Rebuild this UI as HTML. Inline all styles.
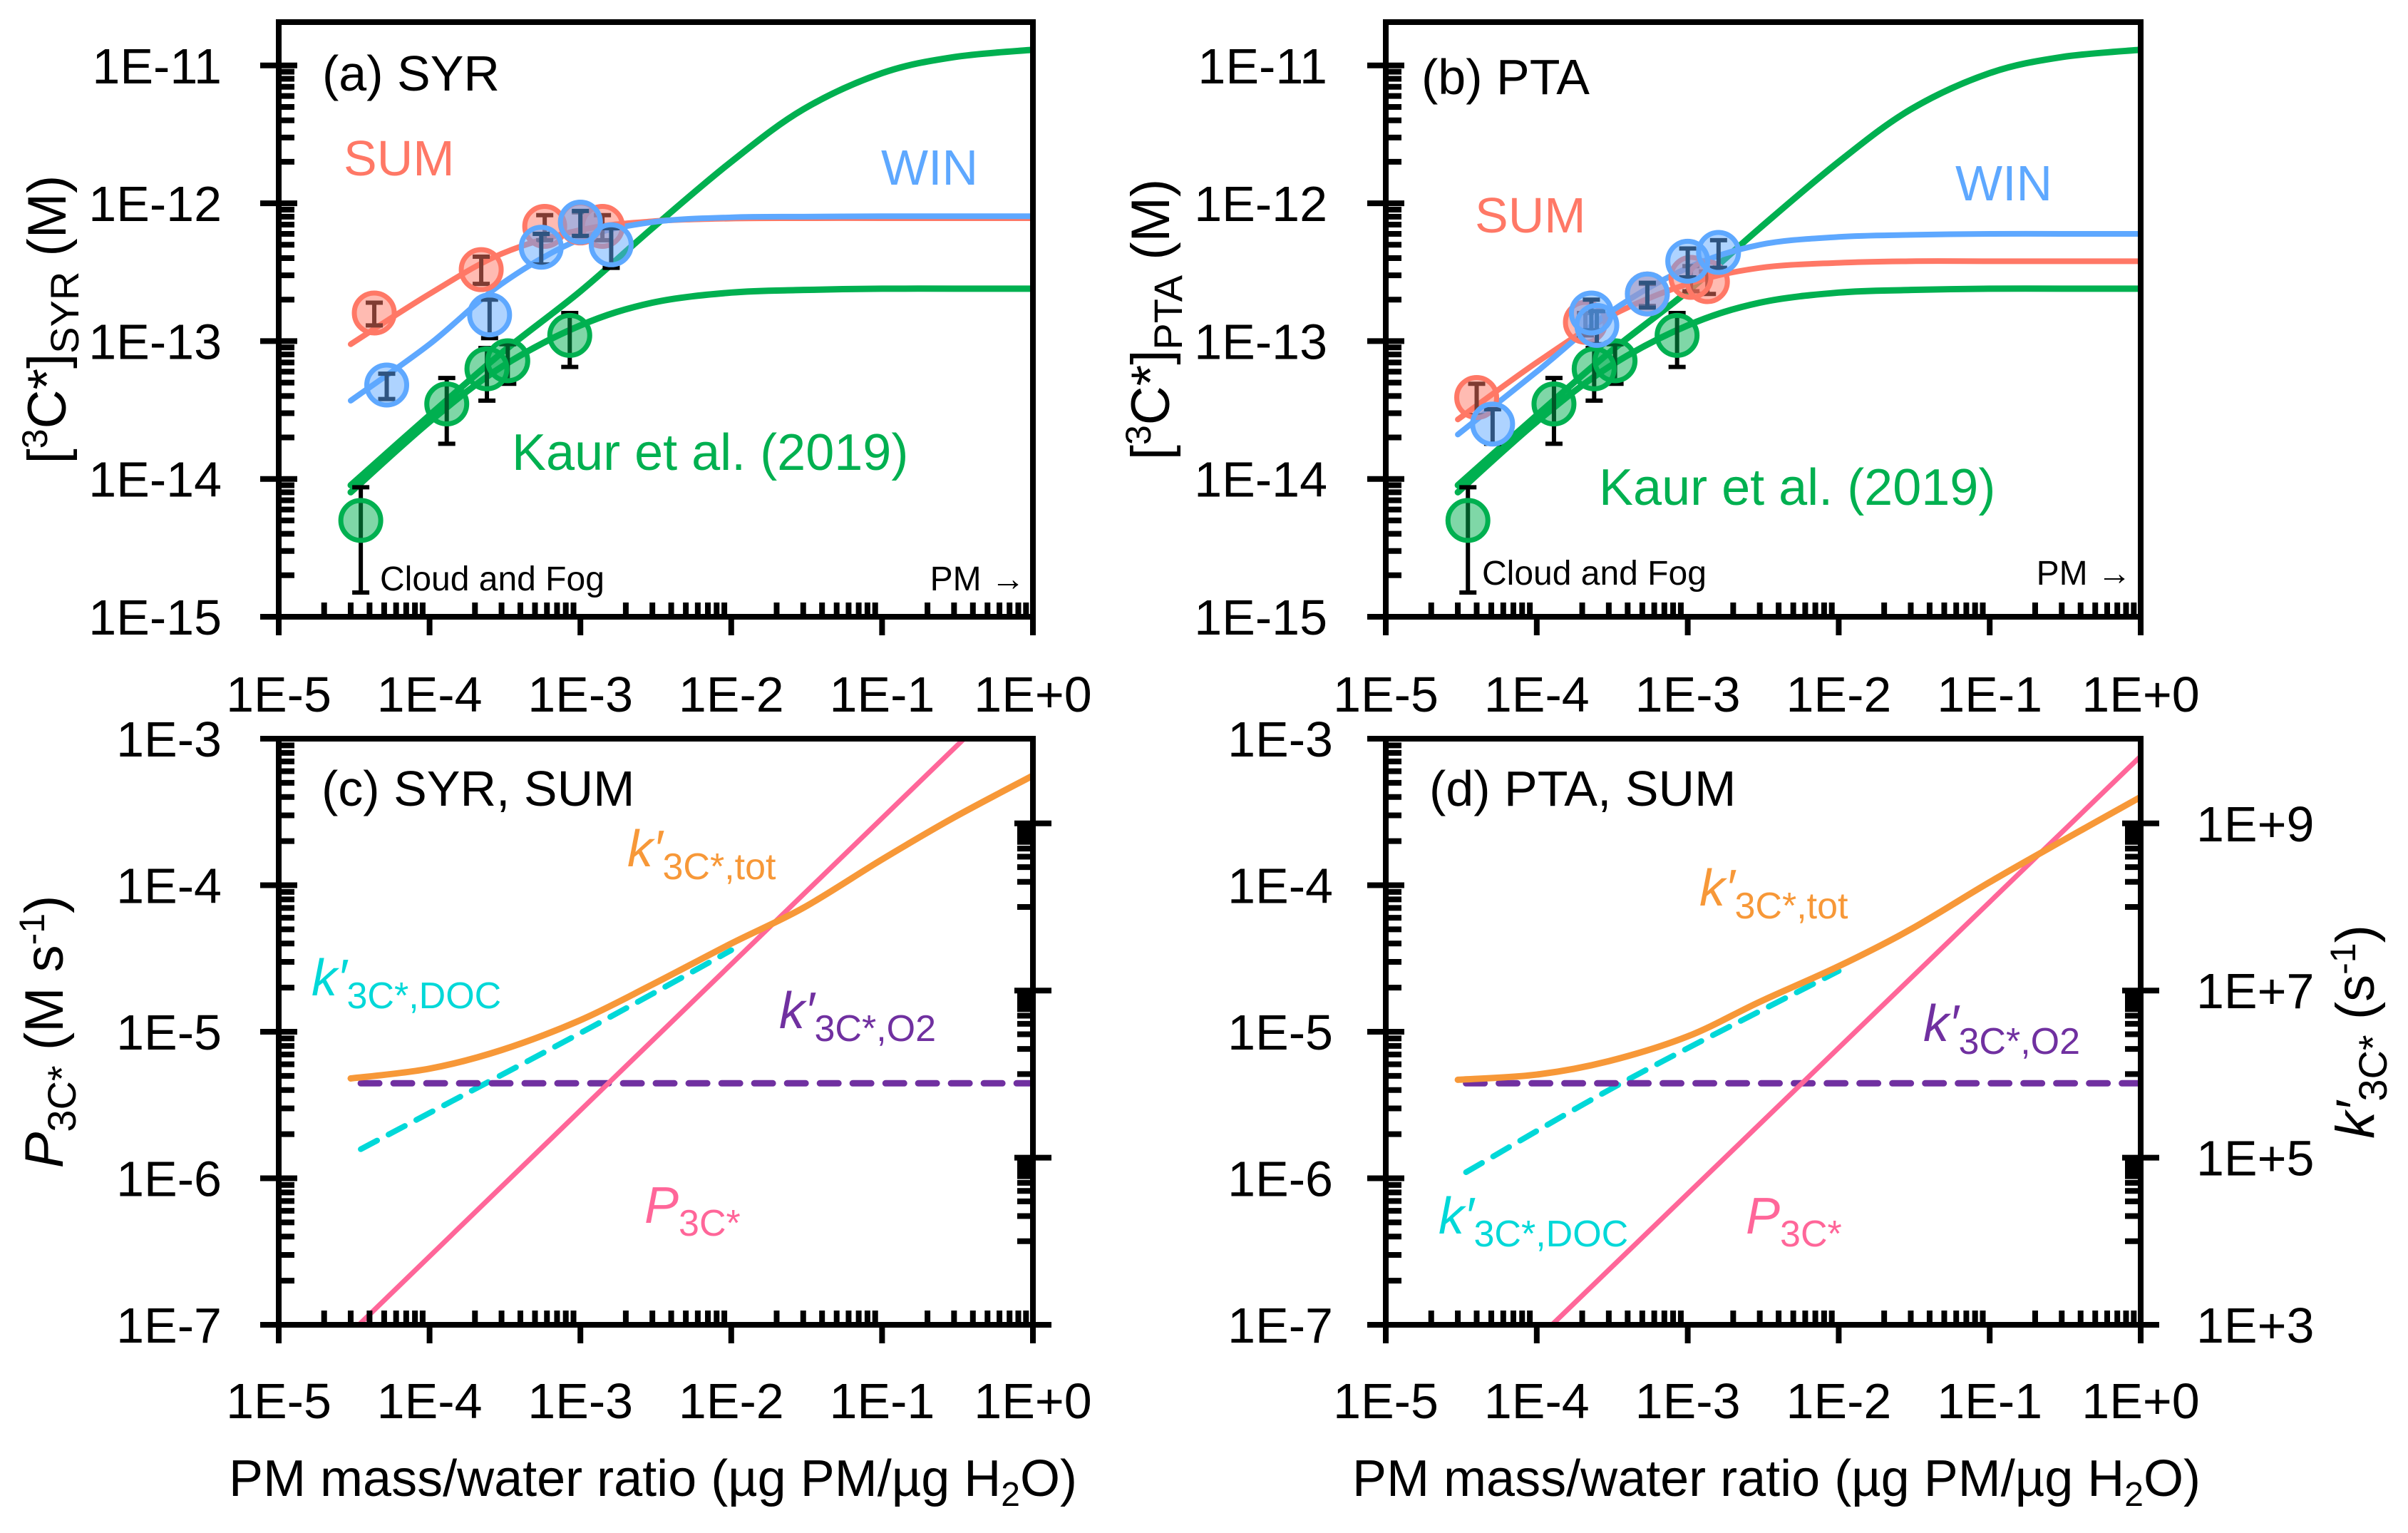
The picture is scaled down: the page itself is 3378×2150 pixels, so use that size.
<!DOCTYPE html>
<html><head><meta charset="utf-8"><style>
html,body{margin:0;padding:0;background:#fff;}
svg{display:block;font-family:"Liberation Sans",sans-serif;}
</style></head><body>
<svg id="chart" xmlns="http://www.w3.org/2000/svg" width="3378" height="2150" viewBox="0 0 3378 2150">
<defs>
<clipPath id="clipA"><rect x="391" y="31" width="1058" height="834"/></clipPath>
<clipPath id="clipB"><rect x="1944" y="31" width="1059" height="834"/></clipPath>
<clipPath id="clipC"><rect x="391" y="1036" width="1058" height="822"/></clipPath>
<clipPath id="clipD"><rect x="1944" y="1036" width="1059" height="822"/></clipPath>
</defs>
<g id="layer-marks"></g>
<g id="layer-axes"></g>
<text x="452" y="127" font-size="70">(a) SYR</text>
<text x="482" y="246" font-size="70" fill="#FF7866">SUM</text>
<text x="1236" y="259" font-size="70" fill="#5EA8FF">WIN</text>
<text x="718" y="659" font-size="72" fill="#00B050">Kaur et al. (2019)</text>
<text x="533" y="828" font-size="48">Cloud and Fog</text>
<text x="1438" y="828" font-size="48" text-anchor="end">PM →</text>

<text x="1994" y="132" font-size="70">(b) PTA</text>
<text x="2069" y="326" font-size="70" fill="#FF7866">SUM</text>
<text x="2743" y="281" font-size="70" fill="#5EA8FF">WIN</text>
<text x="2243" y="708" font-size="72" fill="#00B050">Kaur et al. (2019)</text>
<text x="2079" y="820" font-size="48">Cloud and Fog</text>
<text x="2990" y="820" font-size="48" text-anchor="end">PM →</text>

<text x="451" y="1130" font-size="70">(c) SYR, SUM</text>
<text x="880" y="1215" font-size="72" fill="#F79838"><tspan font-style="italic">k′</tspan><tspan font-size="52" dy="18">3C*,tot</tspan></text>
<text x="437" y="1396" font-size="72" fill="#00D8D8"><tspan font-style="italic">k′</tspan><tspan font-size="52" dy="18">3C*,DOC</tspan></text>
<text x="1093" y="1442" font-size="72" fill="#7030A0"><tspan font-style="italic">k′</tspan><tspan font-size="52" dy="18">3C*,O2</tspan></text>
<text x="904" y="1715" font-size="72" fill="#FF6699"><tspan font-style="italic">P</tspan><tspan font-size="52" dy="18">3C*</tspan></text>

<text x="2005" y="1130" font-size="70">(d) PTA, SUM</text>
<text x="2384" y="1270" font-size="72" fill="#F79838"><tspan font-style="italic">k′</tspan><tspan font-size="52" dy="18">3C*,tot</tspan></text>
<text x="2698" y="1460" font-size="72" fill="#7030A0"><tspan font-style="italic">k′</tspan><tspan font-size="52" dy="18">3C*,O2</tspan></text>
<text x="2018" y="1730" font-size="72" fill="#00D8D8"><tspan font-style="italic">k′</tspan><tspan font-size="52" dy="18">3C*,DOC</tspan></text>
<text x="2449" y="1730" font-size="72" fill="#FF6699"><tspan font-style="italic">P</tspan><tspan font-size="52" dy="18">3C*</tspan></text>

<text transform="translate(92,448) rotate(-90)" font-size="76" text-anchor="middle">[<tspan font-size="50" dy="-26">3</tspan><tspan dy="26">C*]</tspan><tspan font-size="56" dy="18">SYR</tspan><tspan dy="-18"> (M)</tspan></text>
<text transform="translate(1640,448) rotate(-90)" font-size="76" text-anchor="middle">[<tspan font-size="50" dy="-26">3</tspan><tspan dy="26">C*]</tspan><tspan font-size="56" dy="18">PTA</tspan><tspan dy="-18"> (M)</tspan></text>
<text transform="translate(88,1447) rotate(-90)" font-size="76" text-anchor="middle"><tspan font-style="italic">P</tspan><tspan font-size="56" dy="18">3C*</tspan><tspan dy="-18"> (M s</tspan><tspan font-size="50" dy="-26">-1</tspan><tspan dy="26">)</tspan></text>
<text transform="translate(3330,1447) rotate(-90)" font-size="76" text-anchor="middle"><tspan font-style="italic">k′</tspan><tspan font-size="56" dy="18">3C*</tspan><tspan dy="-18"> (s</tspan><tspan font-size="50" dy="-26">-1</tspan><tspan dy="26">)</tspan></text>
<text x="916" y="2098" font-size="72" text-anchor="middle">PM mass/water ratio (µg PM/µg H<tspan font-size="48" dy="14">2</tspan><tspan dy="-14">O)</tspan></text>
<text x="2492" y="2098" font-size="72" text-anchor="middle">PM mass/water ratio (µg PM/µg H<tspan font-size="48" dy="14">2</tspan><tspan dy="-14">O)</tspan></text>
</svg>
<script>
// ===== Data =====
const aSumX = [4.3e-5, 2.2e-4, 5.8e-4, 1.0e-3, 1.4e-3];
const aSumY = [1.6e-13, 3.3e-13, 6.8e-13, 7.2e-13, 6.8e-13];
const aSumLo = [1.3e-13, 2.6e-13, 5.4e-13, 5.8e-13, 5.4e-13];
const aSumHi = [1.9e-13, 4.1e-13, 8.2e-13, 8.6e-13, 8.2e-13];
const aWinX = [5.2e-5, 2.5e-4, 5.5e-4, 1.0e-3, 1.6e-3];
const aWinY = [4.8e-14, 1.55e-13, 4.8e-13, 7.3e-13, 5.0e-13];
const aWinLo = [3.8e-14, 1.05e-13, 3.6e-13, 5.8e-13, 3.4e-13];
const aWinHi = [5.8e-14, 2.0e-13, 6.0e-13, 8.8e-13, 6.6e-13];
const kaurX = [3.5e-5, 1.3e-4, 2.4e-4, 3.3e-4, 8.5e-4];
const kaurY = [5.0e-15, 3.5e-14, 6.3e-14, 7.2e-14, 1.1e-13];
const kaurLo = [1.5e-15, 1.8e-14, 3.7e-14, 4.9e-14, 6.5e-14];
const kaurHi = [8.7e-15, 5.4e-14, 8.9e-14, 9.5e-14, 1.6e-13];
const curveX = [3e-5, 1e-4, 3e-4, 1e-3, 3e-3, 1e-2, 3e-2, 1e-1, 3e-1, 1];
const aSumCurve = [9.5e-14, 2.2e-13, 4.3e-13, 6.4e-13, 7.4e-13, 7.75e-13, 7.8e-13, 7.8e-13, 7.8e-13, 7.8e-13];
const aWinCurve = [3.7e-14, 9.5e-14, 2.6e-13, 5.5e-13, 7.3e-13, 7.9e-13, 8.0e-13, 8.05e-13, 8.05e-13, 8.05e-13];
const kaurHighCurve = [9e-15, 2.9e-14, 8.2e-14, 2.3e-13, 6.6e-13, 2.0e-12, 4.8e-12, 8.8e-12, 1.15e-11, 1.3e-11];
const kaurLowCurve = [8e-15, 2.6e-14, 6.5e-14, 1.3e-13, 1.9e-13, 2.25e-13, 2.35e-13, 2.4e-13, 2.4e-13, 2.4e-13];
const bSumX = [4.0e-5, 2.1e-4, 5.4e-4, 1.05e-3, 1.35e-3];
const bSumY = [3.9e-14, 1.37e-13, 2.2e-13, 2.9e-13, 2.7e-13];
const bSumLo = [2.9e-14, 1.1e-13, 1.8e-13, 2.3e-13, 2.2e-13];
const bSumHi = [4.9e-14, 1.6e-13, 2.6e-13, 3.5e-13, 3.2e-13];
const bWinX = [5.1e-5, 2.3e-4, 2.5e-4, 5.4e-4, 1.0e-3, 1.6e-3];
const bWinY = [2.5e-14, 1.6e-13, 1.3e-13, 2.2e-13, 3.8e-13, 4.4e-13];
const bWinLo = [1.8e-14, 1.2e-13, 0.95e-13, 1.75e-13, 2.9e-13, 3.4e-13];
const bWinHi = [3.2e-14, 2.0e-13, 1.65e-13, 2.65e-13, 4.7e-13, 5.4e-13];
const bSumCurve = [2.7e-14, 7.0e-14, 1.5e-13, 2.6e-13, 3.4e-13, 3.7e-13, 3.8e-13, 3.8e-13, 3.8e-13, 3.8e-13];
const bWinCurve = [2.1e-14, 6.0e-14, 1.6e-13, 3.4e-13, 5.0e-13, 5.7e-13, 5.9e-13, 6.0e-13, 6.0e-13, 6.0e-13];
const cTot = [4.8e-6, 5.6e-6, 7.5e-6, 1.2e-5, 2.1e-5, 4.0e-5, 7.0e-5, 1.5e-4, 2.9e-4, 5.6e-4];
const cDocX = [3.5e-5, 1e-3, 1e-2];
const cDocY = [1.58e-6, 9.8e-6, 3.6e-5];
const cO2X = [3.5e-5, 1];
const cO2Y = [4.45e-6, 4.45e-6];
const cPX = [3.4e-5, 0.35];
const cPY = [1e-7, 1e-3];
const dTot = [4.7e-6, 5.1e-6, 6.3e-6, 9.3e-6, 1.6e-5, 2.8e-5, 5.0e-5, 1.05e-4, 2.0e-4, 4.0e-4];
const dDocX = [3.4e-5, 4e-4, 1e-2];
const dDocY = [1.1e-6, 4.7e-6, 2.6e-5];
const dO2X = [3.4e-5, 1];
const dO2Y = [4.45e-6, 4.45e-6];
const dPX = [1.26e-4, 1];
const dPY = [1e-7, 7.6e-4];
const xTickLabels = ['1E-5','1E-4','1E-3','1E-2','1E-1','1E+0'];
const topYTickLabels = ['1E-15','1E-14','1E-13','1E-12','1E-11'];
const botYTickLabels = ['1E-7','1E-6','1E-5','1E-4','1E-3'];
const rightTickLabels = ['1E+3','1E+5','1E+7','1E+9'];

const NS = 'http://www.w3.org/2000/svg';
const L10 = Math.log10;
const xLeft = v => 391 + (L10(v) + 5) * 211.6;
const xRight = v => 1944 + (L10(v) + 5) * 211.8;
const yTop = v => 865 - (L10(v) + 15) * 193.3;
const yBot = v => 1858 - (L10(v) + 7) * 205.5;
const yK = v => 1858 - (L10(v) - 3) * 117.2;

const marks = document.getElementById('layer-marks');
const axes = document.getElementById('layer-axes');
function mk(tag, attrs, parent) {
  const e = document.createElementNS(NS, tag);
  for (const k in attrs) e.setAttribute(k, attrs[k]);
  parent.appendChild(e);
  return e;
}
function smoothPath(pts) {
  let d = 'M' + pts[0][0].toFixed(1) + ',' + pts[0][1].toFixed(1);
  for (let i = 0; i < pts.length - 1; i++) {
    const p0 = pts[i - 1] || pts[i], p1 = pts[i], p2 = pts[i + 1], p3 = pts[i + 2] || p2;
    const c1 = [p1[0] + (p2[0] - p0[0]) / 6, p1[1] + (p2[1] - p0[1]) / 6];
    const c2 = [p2[0] - (p3[0] - p1[0]) / 6, p2[1] - (p3[1] - p1[1]) / 6];
    d += 'C' + c1.join(',') + ' ' + c2.join(',') + ' ' + p2.join(',');
  }
  return d;
}
function drawCurve(xs, ys, fx, fy, color, width, clip, name, dash) {
  const pts = xs.map((x, i) => [fx(x), fy(ys[i])]);
  const attrs = { d: smoothPath(pts), fill: 'none', stroke: color, 'stroke-width': width, 'stroke-linecap': 'round', 'clip-path': 'url(#' + clip + ')' };
  if (dash) attrs['stroke-dasharray'] = dash;
  const p = mk('path', attrs, marks);
  
  
}
function drawPoints(xs, ys, lo, hi, fx, fy, stroke, fill, name) {
  const g = mk('g', {}, marks);
  
  
  xs.forEach((x, i) => {
    const cx = fx(x);
    const eb = mk('path', { d: `M${cx},${fy(lo[i])}V${fy(hi[i])}M${cx - 12},${fy(lo[i])}h24M${cx - 12},${fy(hi[i])}h24`, stroke: '#000', 'stroke-width': 6, fill: 'none' }, g);
    
    
  });
  xs.forEach((x, i) => {
    const c = mk('circle', { cx: fx(x), cy: fy(ys[i]), r: 28, fill: fill, 'fill-opacity': 0.5, stroke: stroke, 'stroke-width': 7 }, g);
    
    
  });
}

const C_SUM = '#FF7866', C_WIN = '#5EA8FF', C_GRN = '#00B050';
drawCurve(curveX, kaurHighCurve, xLeft, yTop, C_GRN, 9, 'clipA', 'a-kaur-high-curve');
drawCurve(curveX, kaurLowCurve, xLeft, yTop, C_GRN, 9, 'clipA', 'a-kaur-low-curve');
drawCurve(curveX, aSumCurve, xLeft, yTop, C_SUM, 8, 'clipA', 'a-sum-curve');
drawCurve(curveX, aWinCurve, xLeft, yTop, C_WIN, 8, 'clipA', 'a-win-curve');
drawPoints(kaurX, kaurY, kaurLo, kaurHi, xLeft, yTop, C_GRN, C_GRN, 'a-kaur-points');
drawPoints(aSumX, aSumY, aSumLo, aSumHi, xLeft, yTop, C_SUM, C_SUM, 'a-sum-points');
drawPoints(aWinX, aWinY, aWinLo, aWinHi, xLeft, yTop, C_WIN, C_WIN, 'a-win-points');
drawCurve(curveX, kaurHighCurve, xRight, yTop, C_GRN, 9, 'clipB', 'b-kaur-high-curve');
drawCurve(curveX, kaurLowCurve, xRight, yTop, C_GRN, 9, 'clipB', 'b-kaur-low-curve');
drawCurve(curveX, bSumCurve, xRight, yTop, C_SUM, 8, 'clipB', 'b-sum-curve');
drawCurve(curveX, bWinCurve, xRight, yTop, C_WIN, 8, 'clipB', 'b-win-curve');
drawPoints(kaurX, kaurY, kaurLo, kaurHi, xRight, yTop, C_GRN, C_GRN, 'b-kaur-points');
drawPoints(bSumX, bSumY, bSumLo, bSumHi, xRight, yTop, C_SUM, C_SUM, 'b-sum-points');
drawPoints(bWinX, bWinY, bWinLo, bWinHi, xRight, yTop, C_WIN, C_WIN, 'b-win-points');
drawCurve(cDocX, cDocY, xLeft, yBot, '#00D8D8', 8, 'clipC', 'c-kdoc-line', '26 18');
drawCurve(cO2X, cO2Y, xLeft, yBot, '#7030A0', 9, 'clipC', 'c-ko2-line', '26 20');
drawCurve(cPX, cPY, xLeft, yBot, '#FF6699', 7, 'clipC', 'c-p3c-line');
drawCurve(curveX, cTot, xLeft, yBot, '#F79838', 9, 'clipC', 'c-ktot-curve');
drawCurve(dDocX, dDocY, xRight, yBot, '#00D8D8', 8, 'clipD', 'd-kdoc-line', '26 18');
drawCurve(dO2X, dO2Y, xRight, yBot, '#7030A0', 9, 'clipD', 'd-ko2-line', '26 20');
drawCurve(dPX, dPY, xRight, yBot, '#FF6699', 7, 'clipD', 'd-p3c-line');
drawCurve(curveX, dTot, xRight, yBot, '#F79838', 9, 'clipD', 'd-ktot-curve');

function drawPanelAxes(name, x0, x1, yTopPx, yBotPx, fx, fy, yMinExp, yLabels, labelRight, xLabelY) {
  const g = mk('g', {}, axes);
  
  
  const fr = mk('rect', { x: x0, y: yTopPx, width: x1 - x0, height: yBotPx - yTopPx, fill: 'none', stroke: '#000', 'stroke-width': 8 }, g);
  
  
  let d = '';
  for (let e = -5; e <= 0; e++) {
    const x = fx(Math.pow(10, e));
    d += `M${x},${yBotPx - 4}v30`;
    if (e < 0) for (let k = 2; k <= 9; k++) { const xm = fx(k * Math.pow(10, e)); d += `M${xm},${yBotPx}v-20`; }
  }
  for (let i = 0; i < yLabels.length; i++) {
    const e = yMinExp + i;
    const y = fy(Math.pow(10, e));
    d += `M${x0 - 26},${y}h52`;
    for (let k = 2; k <= 9; k++) { const ym = fy(k * Math.pow(10, e)); if (ym > yTopPx + 4) d += `M${x0},${ym}h22`; }
  }
  const tk = mk('path', { d: d, stroke: '#000', 'stroke-width': 8, fill: 'none' }, g);
  
  
  xTickLabels.forEach((t, i) => {
    const tx = mk('text', { x: fx(Math.pow(10, i - 5)), y: xLabelY, 'font-size': 70, 'text-anchor': 'middle' }, g);
    tx.textContent = t;
    
    
  });
  yLabels.forEach((t, i) => {
    const ty = mk('text', { x: labelRight, y: fy(Math.pow(10, yMinExp + i)) + 25, 'font-size': 70, 'text-anchor': 'end' }, g);
    ty.textContent = t;
    
    
  });
}
drawPanelAxes('panel-a', 391, 1449, 31, 865, xLeft, yTop, -15, topYTickLabels, 311, 998);
drawPanelAxes('panel-b', 1944, 3003, 31, 865, xRight, yTop, -15, topYTickLabels, 1862, 998);
drawPanelAxes('panel-c', 391, 1449, 1036, 1858, xLeft, yBot, -7, botYTickLabels, 311, 1989);
drawPanelAxes('panel-d', 1944, 3003, 1036, 1858, xRight, yBot, -7, botYTickLabels, 1870, 1989);

function drawRightAxis(name, xr, withLabels) {
  const g = mk('g', {}, axes);
  
  
  let d = '';
  rightTickLabels.forEach((t, i) => {
    const e = 3 + 2 * i;
    const y = yK(Math.pow(10, e));
    d += `M${xr - 26},${y}h52`;
    if (e > 3) for (let k = 1; k <= 9; k++) d += `M${xr},${yK(k * Math.pow(10, e - 1))}h-22`;
    if (withLabels) {
      const tx = mk('text', { x: xr + 78, y: y + 25, 'font-size': 70 }, g);
      tx.textContent = t;
      
      
    }
  });
  const p = mk('path', { d: d, stroke: '#000', 'stroke-width': 8, fill: 'none' }, g);
  
  
}
drawRightAxis('panel-c-right-axis', 1449, false);
drawRightAxis('panel-d-right-axis', 3003, true);
</script>
</body></html>
